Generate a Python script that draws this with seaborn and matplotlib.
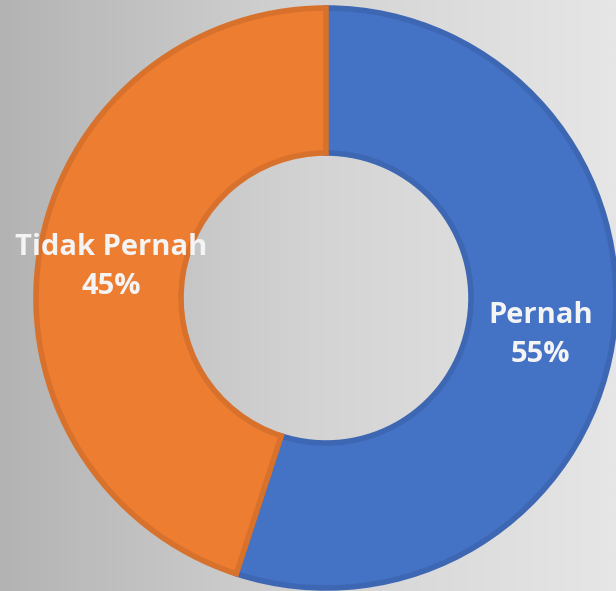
import numpy as np
import matplotlib
matplotlib.use("Agg")
import matplotlib.pyplot as plt
import seaborn as sns

# Data
categories = ["Pernah", "Tidak Pernah"]
values = [55, 45]

sns.set_theme(style="white")
plt.rcParams["font.family"] = ["Open Sans", "DejaVu Sans"]

colors = sns.color_palette(["#4472C4", "#ED7D31"])
edge_colors = ["#3d67b3", "#d8712c"]

fig = plt.figure(figsize=(6.16, 5.91), dpi=100)

# background gradient (left darker, right lighter)
bg = fig.add_axes([0, 0, 1, 1])
grad = np.linspace(0, 1, 256).reshape(1, -1)
cmap = matplotlib.colors.LinearSegmentedColormap.from_list("bg", ["#b3b3b3", "#d3d3d3", "#e6e6e6"])
bg.imshow(grad, aspect="auto", cmap=cmap, extent=[0, 1, 0, 1])
bg.axis("off")

ax = fig.add_axes([0, 0, 1, 1])
ax.set_facecolor("none")
wedges, _ = ax.pie(values, colors=colors, startangle=90, counterclock=False,
                   radius=1.0, wedgeprops=dict(width=0.5, linewidth=4))
for w, ec in zip(wedges, edge_colors):
    w.set_edgecolor(ec)

# labels at wedge midpoints
for w, cat, v in zip(wedges, categories, values):
    ang = np.deg2rad((w.theta1 + w.theta2) / 2)
    r = 0.75
    ax.text(r * np.cos(ang), r * np.sin(ang) - 0.01, f"{cat}\n{v}%", ha="center", va="center",
            color="#f4f4f4", fontsize=21, fontweight="bold", linespacing=1.45)

ax.set_xlim(-326 / 290, 290 / 290)
ax.set_ylim(-(591 - 298) / 290, 298 / 290)
ax.set_aspect("equal", adjustable="datalim")
ax.axis("off")

fig.savefig("out.png", dpi=100)
